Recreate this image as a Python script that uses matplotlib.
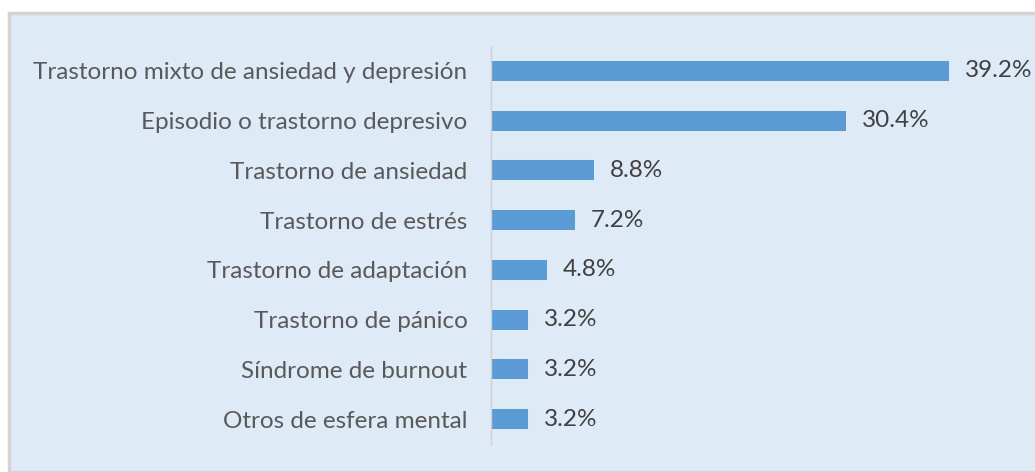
import matplotlib
matplotlib.use("Agg")
import matplotlib.pyplot as plt
from matplotlib.patches import Rectangle

categories = [
    "Trastorno mixto de ansiedad y depresión",
    "Episodio o trastorno depresivo",
    "Trastorno de ansiedad",
    "Trastorno de estrés",
    "Trastorno de adaptación",
    "Trastorno de pánico",
    "Síndrome de burnout",
    "Otros de esfera mental",
]
values = [39.2, 30.4, 8.8, 7.2, 4.8, 3.2, 3.2, 3.2]
value_labels = ["39.2%", "30.4%", "8.8%", "7.2%", "4.8%", "3.2%", "3.2%", "3.2%"]

W, H = 1035, 472
fig = plt.figure(figsize=(W / 100, H / 100), dpi=100)
fig.patch.set_facecolor("white")

# panel background with light gray border on top and left
bg = Rectangle((9 / W, 0), 1.0, 1 - 13 / H, transform=fig.transFigure,
               facecolor="#DEEAF6", edgecolor="#D4D4D4", linewidth=2.5, zorder=-10)
fig.patches.append(bg)

ax = fig.add_axes([491 / W, 1 - 444 / H, (1017 - 491) / W, (444 - 46) / H])
ax.set_facecolor("none")

y = list(range(len(categories)))
ax.barh(y, values, height=0.4, color="#5B9BD5")
ax.set_ylim(len(categories) - 0.5, -0.5)
ax.set_xlim(0, 45)

for yi, v, lab in zip(y, values, value_labels):
    ax.annotate(lab, (v, yi), xytext=(11.5, 0), textcoords="offset points",
                va="center", ha="left", fontsize=17.5, color="#404040", family="Lato")

ax.set_yticks(y)
ax.set_yticklabels(categories, fontsize=17.5, color="#595959", family="Lato")
ax.tick_params(axis="y", length=0, pad=17)
ax.set_xticks([])
for s in ["top", "right", "bottom"]:
    ax.spines[s].set_visible(False)
ax.spines["left"].set_color("#D0D0D0")
ax.spines["left"].set_linewidth(1)

fig.savefig("out.png", dpi=100, facecolor=fig.get_facecolor())
